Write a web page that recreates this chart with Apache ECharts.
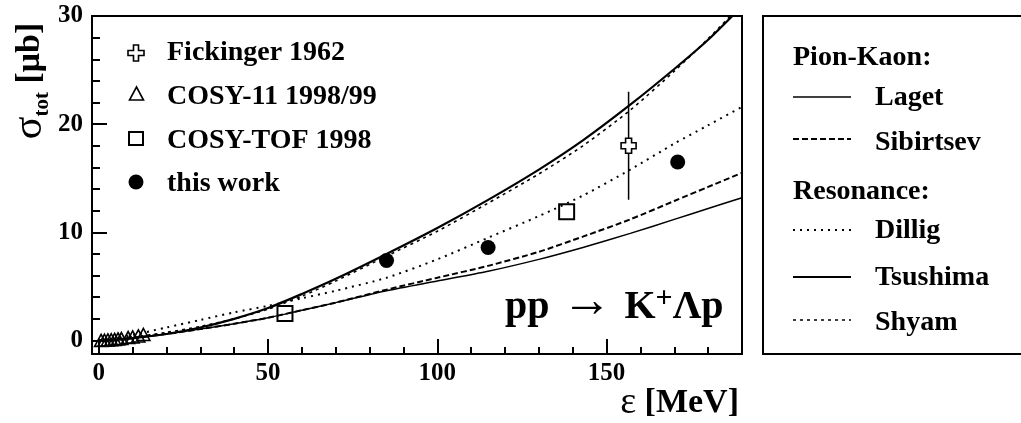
<!DOCTYPE html>
<html><head><meta charset="utf-8">
<script src="https://cdn.jsdelivr.net/npm/echarts@6/dist/echarts.min.js"></script>
<style>html,body{margin:0;padding:0;background:#fff}#c{width:1021px;height:423px}</style>
</head><body><div id="c"></div>
<script>
// ---------- data ----------
const energyGrid = [0, 5, 10, 20, 30, 40, 50, 60, 70, 85, 100, 115, 130, 143, 157, 170, 180, 190];
const laget      = [0, 0.1, 0.25, 0.6, 1.05, 1.55, 2.1, 2.8, 3.5, 4.6, 5.5, 6.4, 7.5, 8.6, 9.9, 11.2, 12.2, 13.2];
const sibirtsev  = [0, 0.1, 0.25, 0.6, 1.05, 1.55, 2.1, 2.8, 3.5, 4.7, 5.8, 6.9, 8.2, 9.6, 11.2, 12.9, 14.2, 15.5];
const dillig     = [0, 0.2, 0.5, 1.2, 1.9, 2.6, 3.2, 3.9, 4.6, 5.8, 7.5, 9.5, 11.5, 13.4, 15.8, 18.2, 19.9, 21.6];
const tsushima   = [0, 0.05, 0.2, 0.6, 1.2, 2.0, 3.0, 4.3, 5.7, 8.0, 10.4, 13.0, 15.8, 18.5, 21.8, 25.1, 27.8, 30.9];
const shyam      = [0, 0.1, 0.3, 0.75, 1.3, 2.0, 2.9, 4.1, 5.5, 7.8, 10.1, 12.7, 15.4, 18.0, 21.3, 24.9, 27.9, 31.1];

const fickingerX = [156.5], fickingerY = [18.0], fickingerErr = [5.0];
const cosy11X = [0.68, 1.68, 2.68, 3.68, 4.68, 5.68, 6.68, 8.68, 10.0, 11.68, 13.18];
const cosy11Y = [0.01, 0.02, 0.05, 0.07, 0.1, 0.14, 0.18, 0.27, 0.33, 0.42, 0.55];
const cosyTofX = [55, 138.2], cosyTofY = [2.5, 11.9];
const thisWorkX = [85, 115, 171], thisWorkY = [7.4, 8.6, 16.5];

const xMajorTicks = [0, 50, 100, 150];
const xMinorTicks = [10, 20, 30, 40, 60, 70, 80, 90, 110, 120, 130, 140, 160, 170, 180];
const yMajorTicks = [0, 10, 20, 30];
const yMinorTicks = [2, 4, 6, 8, 12, 14, 16, 18, 22, 24, 26, 28];

// ---------- chart ----------
const SERIF = '"Liberation Serif", "DejaVu Serif", serif';
const pairs = (xs, ys) => xs.map((x, i) => [x, ys[i]]);
const curve = (name, ys, lw, dash) => ({
  name, type: 'line', data: pairs(energyGrid, ys), symbol: 'none', showSymbol: false,
  smooth: 0.25, clip: true, silent: true,
  lineStyle: { color: '#000', width: lw, type: dash || 'solid', opacity: 1 }, z: 2
});
const crossPath = 'path://M3,0 L7,0 L7,3 L10,3 L10,7 L7,7 L7,10 L3,10 L3,7 L0,7 L0,3 L3,3 Z';

const chart = echarts.init(document.getElementById('c'), null, { renderer: 'canvas' });
const axisBase = { type: 'value', splitLine: { show: false } };
chart.setOption({
  animation: false,
  backgroundColor: '#fff',
  grid: { left: 92, top: 16, right: 279, bottom: 69, show: true, borderColor: '#000', borderWidth: 2, containLabel: false, outerBoundsMode: 'none' },
  xAxis: [
    Object.assign({}, axisBase, {
      min: -2, max: 190, position: 'bottom',
      axisLine: { show: true, onZero: false, lineStyle: { color: '#000', width: 2 } },
      axisTick: { show: true, inside: true, length: 15, lineStyle: { color: '#000', width: 2 }, customValues: xMajorTicks },
      axisLabel: { show: true, customValues: xMajorTicks, color: '#000', fontFamily: SERIF, fontWeight: 'bold', fontSize: 25, margin: 7 }
    }),
    Object.assign({}, axisBase, {
      min: -2, max: 190, position: 'bottom',
      axisLine: { show: false, onZero: false },
      axisTick: { show: true, inside: true, length: 7, lineStyle: { color: '#000', width: 2 }, customValues: xMinorTicks },
      axisLabel: { show: false }
    })
  ],
  yAxis: [
    Object.assign({}, axisBase, {
      min: -1.25, max: 30, position: 'left',
      axisLine: { show: true, onZero: false, lineStyle: { color: '#000', width: 2 } },
      axisTick: { show: true, inside: true, length: 15, lineStyle: { color: '#000', width: 2 }, customValues: yMajorTicks },
      axisLabel: { show: true, customValues: yMajorTicks, color: '#000', fontFamily: SERIF, fontWeight: 'bold', fontSize: 25, margin: 9 }
    }),
    Object.assign({}, axisBase, {
      min: -1.25, max: 30, position: 'left',
      axisLine: { show: false, onZero: false },
      axisTick: { show: true, inside: true, length: 8, lineStyle: { color: '#000', width: 2 }, customValues: yMinorTicks },
      axisLabel: { show: false }
    })
  ],
  series: [
    curve('Laget', laget, 1.5),
    curve('Sibirtsev', sibirtsev, 2, [6, 3]),
    curve('Dillig', dillig, 2, [2, 5]),
    curve('Tsushima', tsushima, 2.2),
    curve('Shyam', shyam, 1.6, [3, 4]),
    {
      name: 'Fickinger error', type: 'line', symbol: 'none', silent: true, z: 3,
      data: [[fickingerX[0], fickingerY[0] - fickingerErr[0]], [fickingerX[0], fickingerY[0] + fickingerErr[0]]],
      lineStyle: { color: '#000', width: 1.5, opacity: 1 }
    },
    {
      name: 'Fickinger 1962', type: 'scatter', data: pairs(fickingerX, fickingerY), symbol: crossPath, symbolSize: 15, z: 4,
      itemStyle: { color: '#fff', borderColor: '#000', borderWidth: 1.6, opacity: 1 }
    },
    {
      name: 'COSY-11 1998/99', type: 'scatter', data: pairs(cosy11X, cosy11Y), symbol: 'triangle', symbolSize: [13, 12], z: 4,
      itemStyle: { color: 'rgba(255,255,255,0)', borderColor: '#000', borderWidth: 1.6, opacity: 1 }
    },
    {
      name: 'COSY-TOF 1998', type: 'scatter', data: pairs(cosyTofX, cosyTofY), symbol: 'rect', symbolSize: 15, z: 4,
      itemStyle: { color: 'rgba(255,255,255,0)', borderColor: '#000', borderWidth: 2, opacity: 1 }
    },
    {
      name: 'this work', type: 'scatter', data: pairs(thisWorkX, thisWorkY), symbol: 'circle', symbolSize: 15, z: 4,
      itemStyle: { color: '#000', opacity: 1 }
    }
  ],
  graphic: [
    // y-axis title
    { type: 'text', x: 30, y: 81, rotation: Math.PI / 2, style: {
        text: '{s|σ}{t|tot}{u| [μb]}', textAlign: 'center', textVerticalAlign: 'middle', fill: '#000',
        rich: {
          s: { fontFamily: SERIF, fontSize: 42, fontWeight: 'normal', lineHeight: 46, verticalAlign: 'middle' },
          t: { fontFamily: SERIF, fontSize: 21, fontWeight: 'bold', lineHeight: 21, verticalAlign: 'bottom' },
          u: { fontFamily: SERIF, fontSize: 34, fontWeight: 'bold', lineHeight: 46, verticalAlign: 'middle' }
        } } },
    // x-axis title
    { type: 'text', x: 739, y: 403, style: {
        text: '{e|ε}{m| [MeV]}', textAlign: 'right', textVerticalAlign: 'middle', fill: '#000',
        rich: {
          e: { fontFamily: SERIF, fontSize: 38, fontWeight: 'normal' },
          m: { fontFamily: SERIF, fontSize: 34, fontWeight: 'bold' }
        } } },
    // reaction label
    { type: 'text', x: 505, y: 306, style: {
        text: '{a|pp}{r| → }{a|K}{b|+}{a|Λp}', textAlign: 'left', textVerticalAlign: 'middle', fill: '#000',
        rich: {
          a: { fontFamily: SERIF, fontSize: 40, fontWeight: 'bold', lineHeight: 44, verticalAlign: 'bottom' },
          r: { fontFamily: SERIF, fontSize: 50, fontWeight: 'normal', lineHeight: 44, verticalAlign: 'bottom' },
          b: { fontFamily: SERIF, fontSize: 30, fontWeight: 'bold', lineHeight: 28, verticalAlign: 'top' }
        } } },
    // left legend (data markers)
    { type: 'polygon', shape: { points: [[133.5,45],[138.5,45],[138.5,50.5],[144,50.5],[144,55.5],[138.5,55.5],[138.5,61],[133.5,61],[133.5,55.5],[128,55.5],[128,50.5],[133.5,50.5]] },
      style: { fill: '#fff', stroke: '#000', lineWidth: 1.6 } },
    { type: 'polygon', shape: { points: [[136.5,87],[143.5,100],[129.5,100]] }, style: { fill: 'none', stroke: '#000', lineWidth: 1.6 } },
    { type: 'rect', shape: { x: 129, y: 132, width: 14, height: 13 }, style: { fill: 'none', stroke: '#000', lineWidth: 2 } },
    { type: 'circle', shape: { cx: 136, cy: 182, r: 7.5 }, style: { fill: '#000' } },
    { type: 'text', x: 167, y: 53, style: { text: 'Fickinger 1962', font: 'bold 28px ' + SERIF, fill: '#000', textVerticalAlign: 'middle' } },
    { type: 'text', x: 167, y: 97, style: { text: 'COSY-11 1998/99', font: 'bold 28px ' + SERIF, fill: '#000', textVerticalAlign: 'middle' } },
    { type: 'text', x: 167, y: 141, style: { text: 'COSY-TOF 1998', font: 'bold 28px ' + SERIF, fill: '#000', textVerticalAlign: 'middle' } },
    { type: 'text', x: 167, y: 184, style: { text: 'this work', font: 'bold 28px ' + SERIF, fill: '#000', textVerticalAlign: 'middle' } },
    // right legend box (models)
    { type: 'rect', shape: { x: 763, y: 16, width: 280, height: 338 }, style: { fill: 'none', stroke: '#000', lineWidth: 2 } },
    { type: 'text', x: 793, y: 58, style: { text: 'Pion-Kaon:', font: 'bold 28px ' + SERIF, fill: '#000', textVerticalAlign: 'middle' } },
    { type: 'line', shape: { x1: 793, y1: 97, x2: 851, y2: 97 }, style: { stroke: '#000', lineWidth: 1.5 } },
    { type: 'text', x: 875, y: 98, style: { text: 'Laget', font: 'bold 28px ' + SERIF, fill: '#000', textVerticalAlign: 'middle' } },
    { type: 'line', shape: { x1: 793, y1: 139, x2: 851, y2: 139 }, style: { stroke: '#000', lineWidth: 2, lineDash: [6, 3] } },
    { type: 'text', x: 875, y: 143, style: { text: 'Sibirtsev', font: 'bold 28px ' + SERIF, fill: '#000', textVerticalAlign: 'middle' } },
    { type: 'text', x: 793, y: 192, style: { text: 'Resonance:', font: 'bold 28px ' + SERIF, fill: '#000', textVerticalAlign: 'middle' } },
    { type: 'line', shape: { x1: 793, y1: 230, x2: 851, y2: 230 }, style: { stroke: '#000', lineWidth: 2, lineDash: [2, 5] } },
    { type: 'text', x: 875, y: 231, style: { text: 'Dillig', font: 'bold 28px ' + SERIF, fill: '#000', textVerticalAlign: 'middle' } },
    { type: 'line', shape: { x1: 793, y1: 277, x2: 851, y2: 277 }, style: { stroke: '#000', lineWidth: 2.2 } },
    { type: 'text', x: 875, y: 278, style: { text: 'Tsushima', font: 'bold 28px ' + SERIF, fill: '#000', textVerticalAlign: 'middle' } },
    { type: 'line', shape: { x1: 793, y1: 320, x2: 851, y2: 320 }, style: { stroke: '#000', lineWidth: 1.6, lineDash: [3, 4] } },
    { type: 'text', x: 875, y: 323, style: { text: 'Shyam', font: 'bold 28px ' + SERIF, fill: '#000', textVerticalAlign: 'middle' } }
  ]
});
</script>
</body></html>
